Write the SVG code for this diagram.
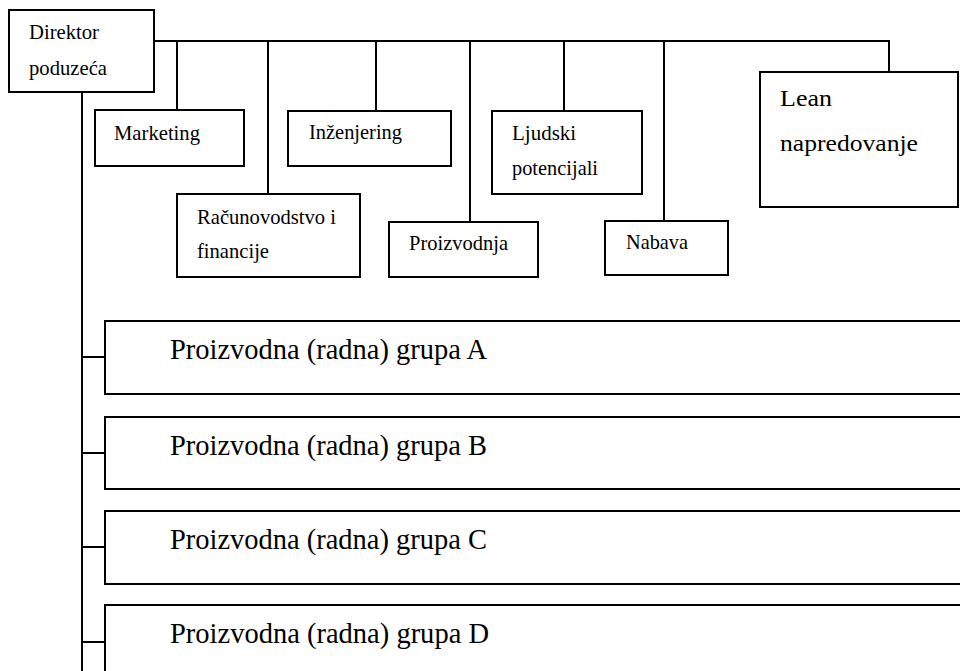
<svg xmlns="http://www.w3.org/2000/svg" width="960" height="671" viewBox="0 0 960 671">
<style>
.box{fill:#fff;stroke:#000;stroke-width:2}
.ln{fill:none;stroke:#000;stroke-width:2}
.t{font-family:"Liberation Serif","Times New Roman",serif;font-size:21px;fill:#000}
.tl{font-family:"Liberation Serif","Times New Roman",serif;font-size:24px;fill:#000}
.tg{font-family:"Liberation Serif","Times New Roman",serif;font-size:30px;fill:#000}
</style>
<rect width="960" height="671" fill="#fff"/>
<g id="connectors">
<path class="ln" d="M154 41H889V72"/>
<path class="ln" d="M177 41V110M268 41V194M376 41V111M470 41V222M564 41V111M664 41V221"/>
<path class="ln" d="M82 92V671M82 357H105M82 453H105M82 547H105M82 642H105"/>
</g>
<g id="direktor">
<rect class="box" x="9" y="10" width="145" height="82"/>
<text class="t" x="29" y="39" textLength="70" lengthAdjust="spacingAndGlyphs">Direktor</text>
<text class="t" x="29" y="75" textLength="78" lengthAdjust="spacingAndGlyphs">poduzeća</text>
</g>
<g id="marketing">
<rect class="box" x="95" y="110" width="149" height="56"/>
<text class="t" x="114" y="140" textLength="86" lengthAdjust="spacingAndGlyphs">Marketing</text>
</g>
<g id="inzenjering">
<rect class="box" x="288" y="111" width="163" height="55"/>
<text class="t" x="309" y="139" textLength="93" lengthAdjust="spacingAndGlyphs">Inženjering</text>
</g>
<g id="ljudski">
<rect class="box" x="492" y="111" width="150" height="83"/>
<text class="t" x="512" y="140">Ljudski</text>
<text class="t" x="512" y="175" textLength="86" lengthAdjust="spacingAndGlyphs">potencijali</text>
</g>
<g id="racunovodstvo">
<rect class="box" x="177" y="194" width="183" height="83"/>
<text class="t" x="197" y="224" textLength="139" lengthAdjust="spacingAndGlyphs">Računovodstvo i</text>
<text class="t" x="197" y="258" textLength="72" lengthAdjust="spacingAndGlyphs">financije</text>
</g>
<g id="proizvodnja">
<rect class="box" x="389" y="222" width="149" height="55"/>
<text class="t" x="409" y="250" textLength="99" lengthAdjust="spacingAndGlyphs">Proizvodnja</text>
</g>
<g id="nabava">
<rect class="box" x="605" y="221" width="123" height="54"/>
<text class="t" x="626" y="249" textLength="62" lengthAdjust="spacingAndGlyphs">Nabava</text>
</g>
<g id="lean">
<rect class="box" x="760" y="72" width="198" height="135"/>
<text class="tl" x="780" y="106" textLength="52" lengthAdjust="spacingAndGlyphs">Lean</text>
<text class="tl" x="780" y="151" textLength="138" lengthAdjust="spacingAndGlyphs">napredovanje</text>
</g>
<g id="grupa-a">
<rect class="box" x="105" y="321" width="870" height="73"/>
<text class="tg" x="170" y="359" textLength="317" lengthAdjust="spacingAndGlyphs">Proizvodna (radna) grupa A</text>
</g>
<g id="grupa-b">
<rect class="box" x="105" y="417" width="870" height="72"/>
<text class="tg" x="170" y="455" textLength="317" lengthAdjust="spacingAndGlyphs">Proizvodna (radna) grupa B</text>
</g>
<g id="grupa-c">
<rect class="box" x="105" y="511" width="870" height="73"/>
<text class="tg" x="170" y="549" textLength="317" lengthAdjust="spacingAndGlyphs">Proizvodna (radna) grupa C</text>
</g>
<g id="grupa-d">
<rect class="box" x="105" y="605" width="870" height="90"/>
<text class="tg" x="170" y="643" textLength="319" lengthAdjust="spacingAndGlyphs">Proizvodna (radna) grupa D</text>
</g>
</svg>
